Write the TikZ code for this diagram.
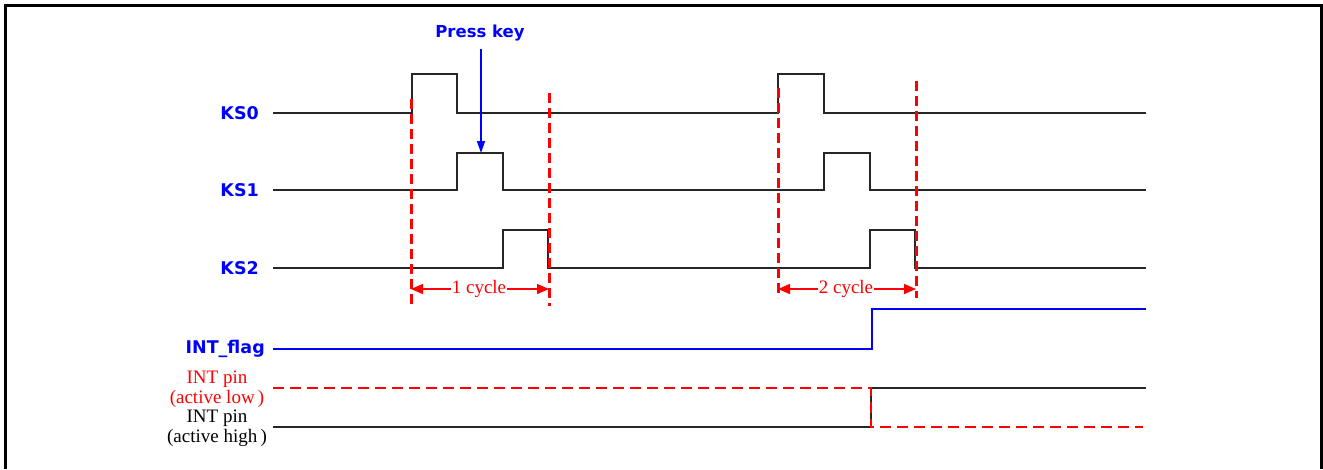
\documentclass[tikz,border=0pt]{standalone}
\usepackage{fontspec}
\setmainfont{Liberation Serif}
\newfontfamily\lblfont{DejaVu Sans}
\usetikzlibrary{arrows.meta}
\tikzset{
  sig/.style={line width=2pt, black!85},
  flagsig/.style={line width=2pt, blue},
  reddash/.style={line width=3pt, red, dash pattern=on 10pt off 5pt},
  lowsig/.style={line width=2.8pt, red, dash pattern=on 11pt off 6pt},
  bluelbl/.style={font=\lblfont\bfseries\fontsize{17.5}{19}\selectfont, text=blue, anchor=east, inner sep=0pt},
  seriflbl/.style={font=\fontsize{19}{20}\selectfont, align=center, inner sep=0pt},
  cyc/.style={line width=1.6pt, red, {Triangle[length=12pt,width=10pt]}-{Triangle[length=12pt,width=10pt]}},
  cyclbl/.style={font=\fontsize{19}{20}\selectfont, text=red, fill=white, inner sep=1pt},
}
\begin{document}
\begin{tikzpicture}[x=1pt,y=-1pt]
\useasboundingbox (0,0) rectangle (1323,469);
% frame (open at bottom)
\draw[line width=3pt] (5,469) -- (5,5) -- (1321,5) -- (1321,469);

% labels
\node[bluelbl] (ks0) at (259,113) {KS0};
\node[bluelbl] (ks1) at (259,190) {KS1};
\node[bluelbl] (ks2) at (259,268) {KS2};
\node[bluelbl] (flag) at (265,349) {INT\_flag};
\node[seriflbl, text=red] (pinlow) at (217,389) {INT pin\\(active low\,)};
\node[seriflbl, text=black] (pinhigh) at (217,428) {INT pin\\(active high\,)};
\node[font=\lblfont\bfseries\fontsize{16.5}{18}\selectfont, text=blue, inner sep=0pt] (press) at (480,33) {Press key};

% signals
\draw[sig] (273,113) -- (412,113) -- (412,74) -- (457,74) -- (457,113) -- (778,113) -- (778,74) -- (824,74) -- (824,113) -- (1146,113);
\draw[sig] (273,190) -- (457,190) -- (457,153) -- (503,153) -- (503,190) -- (824,190) -- (824,153) -- (870,153) -- (870,190) -- (1146,190);
\draw[sig] (273,268) -- (503,268) -- (503,230) -- (548,230) -- (548,268) -- (870,268) -- (870,230) -- (915,230) -- (915,268) -- (1146,268);
\draw[flagsig] (273,349) -- (872,349) -- (872,309) -- (1146,309);
\draw[sig] (273,427) -- (871,427) -- (871,388) -- (1146,388);
\draw[lowsig] (273,388) -- (871,388) -- (871,427) -- (1143,427);

% cycle markers
\draw[reddash] (411,99) -- (411,306);
\draw[reddash] (549,93) -- (549,306);
\draw[reddash] (778,88) -- (778,298);
\draw[reddash] (916,81) -- (916,298);
\coordinate (c1a) at (411,289);
\coordinate (c1b) at (549,289);
\coordinate (c2a) at (778,289);
\coordinate (c2b) at (916,289);
\draw[cyc] (c1a) -- (c1b);
\draw[cyc] (c2a) -- (c2b);
\node[cyclbl] (cy1) at (479,289) {1 cycle};
\node[cyclbl] (cy2) at (846,289) {2 cycle};

% press key arrow
\coordinate (presstip) at (481,153);
\draw[blue, line width=1.5pt, -{Triangle[length=12pt,width=8pt]}] (press.south -| presstip) ++(0,8) -- (presstip);
\end{tikzpicture}
\end{document}
